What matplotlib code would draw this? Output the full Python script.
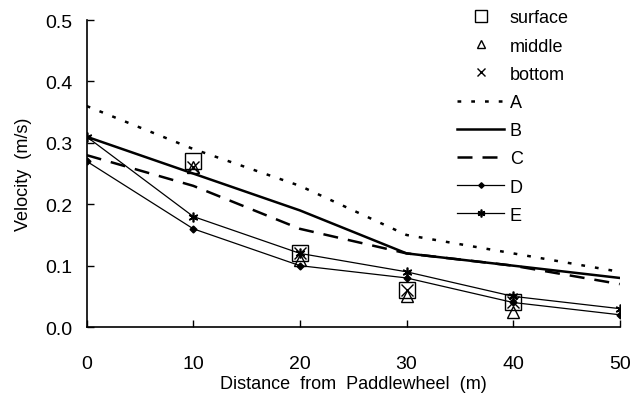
import matplotlib.pyplot as plt

plt.rcParams["font.family"] = ["Liberation Sans", "DejaVu Sans"]

# Distance from paddlewheel (m)
distance = [0, 10, 20, 30, 40, 50]
obs_distance = [10, 20, 30, 40]

# Model curves
line_a = [0.36, 0.29, 0.23, 0.15, 0.12, 0.09]
line_b = [0.31, 0.25, 0.19, 0.12, 0.10, 0.08]
line_c = [0.28, 0.23, 0.16, 0.12, 0.10, 0.07]
line_d = [0.27, 0.16, 0.10, 0.08, 0.04, 0.02]
line_e = [0.31, 0.18, 0.12, 0.09, 0.05, 0.03]

# Measured velocities
surface = [0.27, 0.12, 0.06, 0.04]
middle = [0.26, 0.11, 0.05, 0.025]
bottom = [0.26, 0.12, 0.06, 0.04]

fig = plt.figure(figsize=(6.33, 4.06), dpi=100)
ax = fig.add_axes([0.137, 0.192, 0.842, 0.756])

ax.plot(obs_distance, surface, linestyle='none', marker='s', markersize=11,
        markerfacecolor='none', markeredgecolor='black', markeredgewidth=1.0, label='surface')
ax.plot(obs_distance, middle, linestyle='none', marker='^', markersize=8,
        markerfacecolor='none', markeredgecolor='black', markeredgewidth=1.0, label='middle')
ax.plot(obs_distance, bottom, linestyle='none', marker='x', markersize=8,
        color='black', markeredgewidth=1.0, label='bottom')

ax.plot(distance, line_a, color='black', linestyle=(0, (1.5, 4)), linewidth=1.8, label='A')
ax.plot(distance, line_b, color='black', linestyle='-', linewidth=1.8, label='B')
ax.plot(distance, line_c, color='black', linestyle=(0, (6, 4)), linewidth=1.8, label='C')
ax.plot(distance, line_d, color='black', linewidth=0.9, marker='D', markersize=3.5, label='D')
ax.plot(distance, line_e, color='black', linewidth=0.9, marker=(6, 2, 0), markersize=7,
        markeredgewidth=1.2, label='E')

ax.set_xlim(0, 50)
ax.set_ylim(0, 0.5)
ax.set_xticks([0, 10, 20, 30, 40, 50])
ax.set_yticks([0.0, 0.1, 0.2, 0.3, 0.4, 0.5])
ax.set_yticklabels(['0.0', '0.1', '0.2', '0.3', '0.4', '0.5'])
ax.tick_params(direction='in', length=5, labelsize=14, width=1)
ax.tick_params(axis='x', pad=20)
ax.tick_params(axis='y', pad=10)

ax.spines['top'].set_visible(False)
ax.spines['right'].set_visible(False)
ax.spines['left'].set_linewidth(1.2)
ax.spines['bottom'].set_linewidth(1.2)

ax.set_xlabel('Distance  from  Paddlewheel  (m)', fontsize=13, labelpad=2)
ax.set_ylabel('Velocity  (m/s)', fontsize=13, labelpad=10)

ax.legend(loc='upper left', bbox_to_anchor=(0.665, 1.088), frameon=False, fontsize=13,
          handlelength=2.6, handletextpad=0.3, labelspacing=0.62, markerscale=0.8)

fig.savefig('out.png', dpi=100)
